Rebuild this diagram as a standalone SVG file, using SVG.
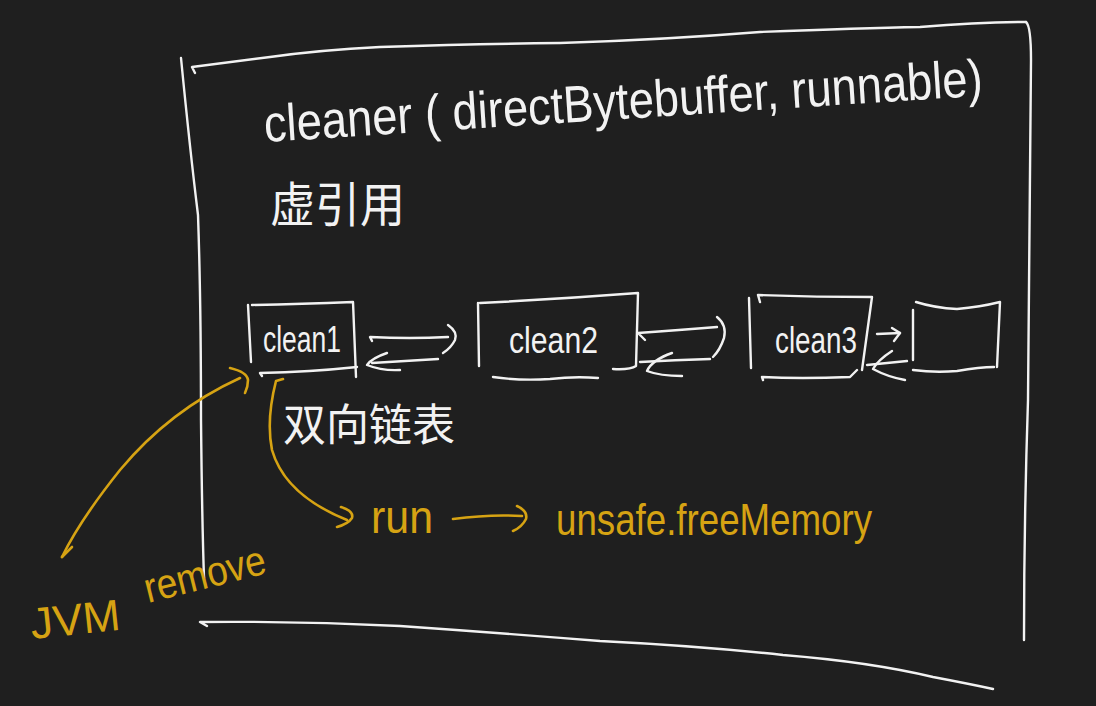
<svg xmlns="http://www.w3.org/2000/svg" width="1096" height="706" viewBox="0 0 1096 706">
<style>
.w{fill:none;stroke:#f2f2f2;stroke-width:2.4;stroke-linecap:round;stroke-linejoin:round}
.y{fill:none;stroke:#d6a313;stroke-width:2.6;stroke-linecap:round;stroke-linejoin:round}
.tw{fill:#f2f2f2;font-family:"Liberation Sans","Noto Sans CJK SC",sans-serif}
.ty{fill:#d6a313;font-family:"Liberation Sans","Noto Sans CJK SC",sans-serif}
</style>
<rect width="1096" height="706" fill="#1f1f1f"/>
<g id="frame">
<path class="w" d="M195,73 L192,67 Q230,62 270,57 Q320,50 380,47 Q480,44 560,43 Q660,40 760,32 Q860,28 920,27 Q980,22 1026,22"/>
<path class="w" d="M1026,22 Q1031,26 1031,60 L1028,400 Q1024,520 1024,640"/>
<path class="w" d="M181,58 Q190,150 198,215 Q201,300 201,420 Q202,520 204,578"/>
<path class="w" d="M207,626 L200,622 Q300,621 400,626 Q500,633 600,641 Q700,646 783,655 Q870,662 933,677 Q970,684 993,689"/>
</g>
<g id="title">
<text class="tw" x="265" y="142" font-size="52" textLength="720" lengthAdjust="spacingAndGlyphs" transform="rotate(-3.7 265 142)">cleaner ( directBytebuffer, runnable)</text>
<text class="tw" x="270" y="222" font-size="48" textLength="135" lengthAdjust="spacingAndGlyphs">虚引用</text>
</g>
<g id="node-clean1">
<path class="w" d="M248,305 L251,362"/>
<path class="w" d="M252,305 Q300,304 353,302 L356,377"/>
<path class="w" d="M262,376 L260,373 Q310,372 357,367"/>
<text class="tw" x="263" y="352" font-size="37" textLength="78" lengthAdjust="spacingAndGlyphs">clean1</text>
</g>
<g id="node-clean2">
<path class="w" d="M478,303 L479,366"/>
<path class="w" d="M480,303 Q560,299 638,293 L636,366 Q630,370 613,369"/>
<path class="w" d="M493,377 Q520,381 550,379 Q575,376 598,378"/>
<text class="tw" x="509" y="353" font-size="37" textLength="89" lengthAdjust="spacingAndGlyphs">clean2</text>
</g>
<g id="node-clean3">
<path class="w" d="M749,298 L751,368"/>
<path class="w" d="M760,302 L758,295 Q815,297 872,297 L862,370"/>
<path class="w" d="M763,380 L762,377 Q800,379 850,377 L857,370"/>
<text class="tw" x="775" y="353" font-size="37" textLength="82" lengthAdjust="spacingAndGlyphs">clean3</text>
</g>
<g id="node-empty">
<path class="w" d="M913,310 L913,360"/>
<path class="w" d="M916,302 Q935,308 957,309 Q980,307 1000,302 L997,367"/>
<path class="w" d="M913,370 Q935,373 957,371 Q980,367 994,367"/>
</g>
<g id="label-list">
<text class="tw" x="283" y="441" font-size="44" textLength="172" lengthAdjust="spacingAndGlyphs">双向链表</text>
</g>
<g id="label-run">
<text class="ty" x="371" y="533" font-size="46" textLength="62" lengthAdjust="spacingAndGlyphs">run</text>
</g>
<g id="label-freeMemory">
<text class="ty" x="556" y="535" font-size="44" textLength="316" lengthAdjust="spacingAndGlyphs">unsafe.freeMemory</text>
</g>
<g id="label-jvm-remove">
<text class="ty" x="32" y="639" font-size="44" textLength="90" lengthAdjust="spacingAndGlyphs" transform="rotate(-6 32 639)">JVM</text>
<text class="ty" x="148" y="603" font-size="42" textLength="124" lengthAdjust="spacingAndGlyphs" transform="rotate(-14 148 603)">remove</text>
</g>
<g id="connectors">
<path class="w" d="M372,341 L370,337 Q410,339 448,337"/>
<path class="w" d="M448,325 Q458,332 455,340 Q451,348 443,353"/>
<path class="w" d="M438,359 Q405,361 372,363"/>
<path class="w" d="M387,353 Q372,358 367,365 Q382,371 400,370"/>
<path class="w" d="M645,340 L638,333 Q680,330 717,327"/>
<path class="w" d="M717,317 Q727,325 724,338 Q720,350 713,357"/>
<path class="w" d="M710,359 Q675,360 640,362"/>
<path class="w" d="M672,353 Q652,360 647,371 Q660,376 682,376"/>
<path class="w" d="M877,334 L900,333"/>
<path class="w" d="M892,328 L900,333 L894,341"/>
<path class="w" d="M907,361 Q887,363 867,365"/>
<path class="w" d="M892,351 Q878,360 873,369 Q888,377 905,380"/>
<path class="y" d="M240,378 Q170,410 120,470 Q80,520 62,557"/>
<path class="y" d="M230,368 Q247,372 248,380 Q248,387 245,393"/>
<path class="y" d="M62,557 L72,547"/>
<path class="y" d="M283,379 L276,381 Q266,420 272,450 Q285,495 347,520"/>
<path class="y" d="M341,507 Q354,511 352,518 Q348,524 337,527"/>
<path class="y" d="M453,519 Q490,514 522,516"/>
<path class="y" d="M517,506 Q528,511 526,519 Q522,527 513,531"/>
</g>
</svg>
